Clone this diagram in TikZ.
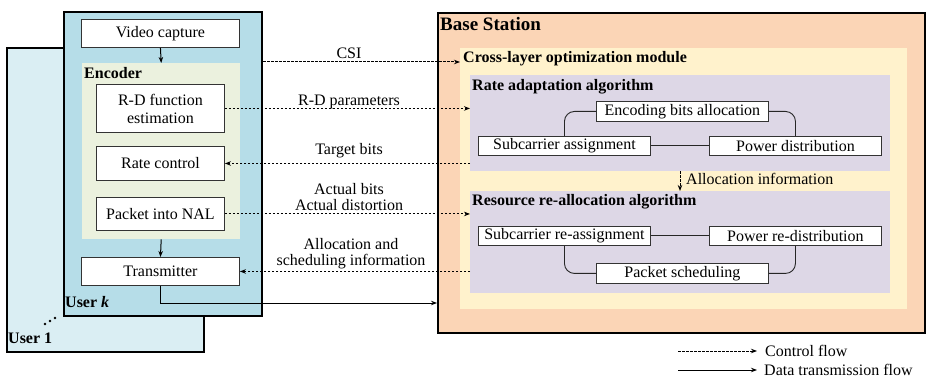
\documentclass[tikz,border=0pt]{standalone}
\usepackage{fontspec}
\setmainfont{LiberationSerif}[Extension=.ttf, UprightFont=*-Regular, BoldFont=*-Bold, ItalicFont=*-Italic, BoldItalicFont=*-BoldItalic]
\usetikzlibrary{arrows.meta}
\definecolor{uone}{HTML}{DAEEF3}
\definecolor{ukay}{HTML}{B6DDE8}
\definecolor{encc}{HTML}{EBF1DE}
\definecolor{bsc}{HTML}{FBD5B6}
\definecolor{modc}{HTML}{FFF2CC}
\definecolor{algc}{HTML}{DDD7E6}
\begin{document}
\begin{tikzpicture}[x=1pt,y=-1pt,
  font=\rmfamily\fontsize{16}{16}\selectfont,
  outerbox/.style={draw=black, line width=2.3pt, inner sep=0pt, anchor=north west},
  region/.style={draw=none, inner sep=0pt, anchor=north west},
  blk/.style={draw=black!80, line width=0.9pt, fill=white, inner sep=0pt, anchor=north west, align=center},
  ttl/.style={inner sep=0pt, anchor=base west, font=\rmfamily\fontsize{16}{16}\selectfont\bfseries},
  elbl/.style={inner sep=0pt, anchor=base, align=center},
  ctrl/.style={dash pattern=on 2.5pt off 1.5pt, line width=1pt, -{Stealth[length=6pt,width=4.5pt]}},
  dataf/.style={line width=1pt, -{Stealth[length=6pt,width=4.5pt]}},
  plain/.style={line width=0.9pt, draw=black!85}
]
\useasboundingbox (0,0) rectangle (926,379);

% Users
\node[outerbox, fill=uone, minimum width=197pt, minimum height=304pt] (u1) at (6,47) {};
\node[outerbox, fill=ukay, minimum width=198pt, minimum height=304pt] (uk) at (63,11) {};
\node[ttl] (u1lbl) at (8,343) {User 1};
\node[ttl] (uklbl) at (65,308) {User \textit{k}};
\fill (45,324) circle (1.3pt) (50,321) circle (1.3pt) (55,318) circle (1.3pt);

\node[blk, minimum width=158pt, minimum height=28pt] (vc) at (81,19) {};
\node at (vc.center) {Video capture};
\node[region, fill=encc, minimum width=158pt, minimum height=176pt] (enc) at (82,63) {};
\node[ttl] (enclbl) at (84,79) {Encoder};
\node[blk, minimum width=128pt, minimum height=48pt] (rd) at (96,84) {};
\node[align=center, inner sep=0pt] at (rd.center) {R-D function\\[2pt]estimation};
\node[blk, minimum width=128pt, minimum height=34pt] (rc) at (96,146) {};
\node at (rc.center) {Rate control};
\node[blk, minimum width=128pt, minimum height=33pt] (nal) at (96,197) {};
\node at (nal.center) {Packet into NAL};
\node[blk, minimum width=158pt, minimum height=28pt] (tx) at (81,257) {};
\node at (tx.center) {Transmitter};

% Base station
\node[outerbox, fill=bsc, minimum width=487pt, minimum height=320pt] (bs) at (437,12) {};
\node[ttl, font=\rmfamily\fontsize{19}{19}\selectfont\bfseries] (bslbl) at (440,31) {Base Station};
\node[region, fill=modc, minimum width=447pt, minimum height=261pt] (mod) at (460,48) {};
\node[ttl] (modlbl) at (463,63) {Cross-layer optimization module};

\node[region, fill=algc, minimum width=420pt, minimum height=96pt] (ra) at (470,75) {};
\node[ttl] (ralbl) at (472,91) {Rate adaptation algorithm};
\node[blk, minimum width=172pt, minimum height=20pt] (eb) at (596,101) {};
\node at (eb.center) {Encoding bits allocation};
\node[blk, minimum width=172pt, minimum height=19pt] (sa) at (478,136) {};
\node at (sa.center) {Subcarrier assignment};
\node[blk, minimum width=172pt, minimum height=19pt] (pd) at (709,136) {};
\node at (pd.center) {Power distribution};

\node[region, fill=algc, minimum width=420pt, minimum height=102pt] (rra) at (470,191) {};
\node[ttl] (rralbl) at (472,206) {Resource re-allocation algorithm};
\node[blk, minimum width=172pt, minimum height=19pt] (sr) at (478,226) {};
\node at (sr.center) {Subcarrier re-assignment};
\node[blk, minimum width=172pt, minimum height=19pt] (pr) at (709,226) {};
\node at (pr.center) {Power re-distribution};
\node[blk, minimum width=172pt, minimum height=20pt] (ps) at (596,263) {};
\node at (ps.center) {Packet scheduling};

% internal connectors
\draw[plain] (sa.east) -- (pd.west);
\draw[plain, rounded corners=10pt] (sa.north) |- (eb.west);
\draw[plain, rounded corners=10pt] (eb.east) -| (pd.north);
\draw[plain] (sr.east) -- (pr.west);
\draw[plain, rounded corners=10pt] (sr.south) |- (ps.west);
\draw[plain, rounded corners=10pt] (ps.east) -| (pr.south);

\draw[ctrl] (ra.south -| 680,0) -- (rra.north -| 680,0);
\node[inner sep=0pt, anchor=base west] (ailbl) at (686,185) {Allocation information};

% user-side arrows
\draw[dataf] (vc.south) -- (enc.north);
\draw[dataf] (enc.south) -- (tx.north);

% cross arrows
\draw[ctrl] (uk.east |- 0,62) -- (mod.west |- 0,62);
\node[elbl] (csil) at (349,59) {CSI};
\draw[ctrl] (rd.east) -- (rd.east -| ra.west);
\node[elbl] (rdl) at (349,106) {R-D parameters};
\draw[ctrl] (rc.east -| ra.west) -- (rc.east);
\node[elbl] (tbl) at (349,155) {Target bits};
\draw[ctrl] (nal.east) -- (nal.east -| rra.west);
\node[inner sep=0pt, align=center, anchor=south] (adl) at (349,210.5) {Actual bits\\[0pt]Actual distortion};
\draw[ctrl] (tx.east -| rra.west) -- (tx.east);
\node[inner sep=0pt, align=center, anchor=south] (sil) at (351,269.5) {Allocation and\\[0pt]scheduling information};
\draw[dataf] (tx.south) |- (bs.west |- 0,303);

% legend
\coordinate (lc1) at (678,351);
\coordinate (ld1) at (678,370);
\node[inner sep=0pt, anchor=west] (lgc) at (765,351) {Control flow};
\node[inner sep=0pt, anchor=west] (lgd) at (764,370) {Data transmission flow};
\draw[ctrl] (lc1) -- (lgc.west -| 757,0);
\draw[dataf] (ld1) -- (lgd.west -| 757,0);
\end{tikzpicture}
\end{document}
